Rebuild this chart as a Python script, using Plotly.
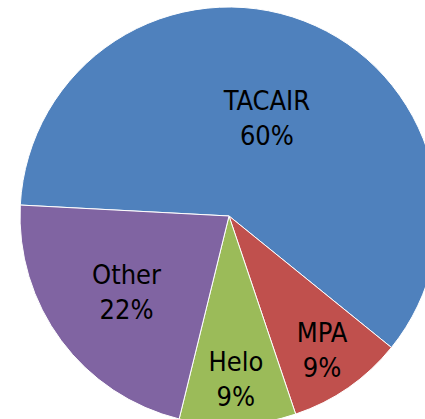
import plotly.graph_objects as go

labels = ["TACAIR", "MPA", "Helo", "Other"]
shares = [60, 9, 9, 22]
colors = ["#4F81BD", "#C0504D", "#9BBB59", "#8064A2"]

fig = go.Figure(
    go.Pie(
        labels=labels,
        values=shares,
        sort=False,
        direction="clockwise",
        rotation=273,
        marker={"colors": colors, "line": {"color": "white", "width": 1}},
        texttemplate="%{label}<br>%{percent:.0%}",
        textposition="inside",
        insidetextorientation="horizontal",
        textfont={"family": "Liberation Sans Narrow, Arial Narrow, DejaVu Sans Condensed, sans-serif",
                  "size": 27, "color": "black"},
        hoverinfo="label+percent",
    )
)

fig.update_layout(
    width=438,
    height=425,
    margin={"l": 20, "r": 0, "t": 7, "b": 0},
    showlegend=False,
    paper_bgcolor="white",
    plot_bgcolor="white",
    uniformtext={"minsize": 27, "mode": "show"},
)

fig.write_html(
    "out.html",
    config={"displayModeBar": False},
    post_script="document.body.style.margin='0';document.body.style.overflow='hidden';",
)
